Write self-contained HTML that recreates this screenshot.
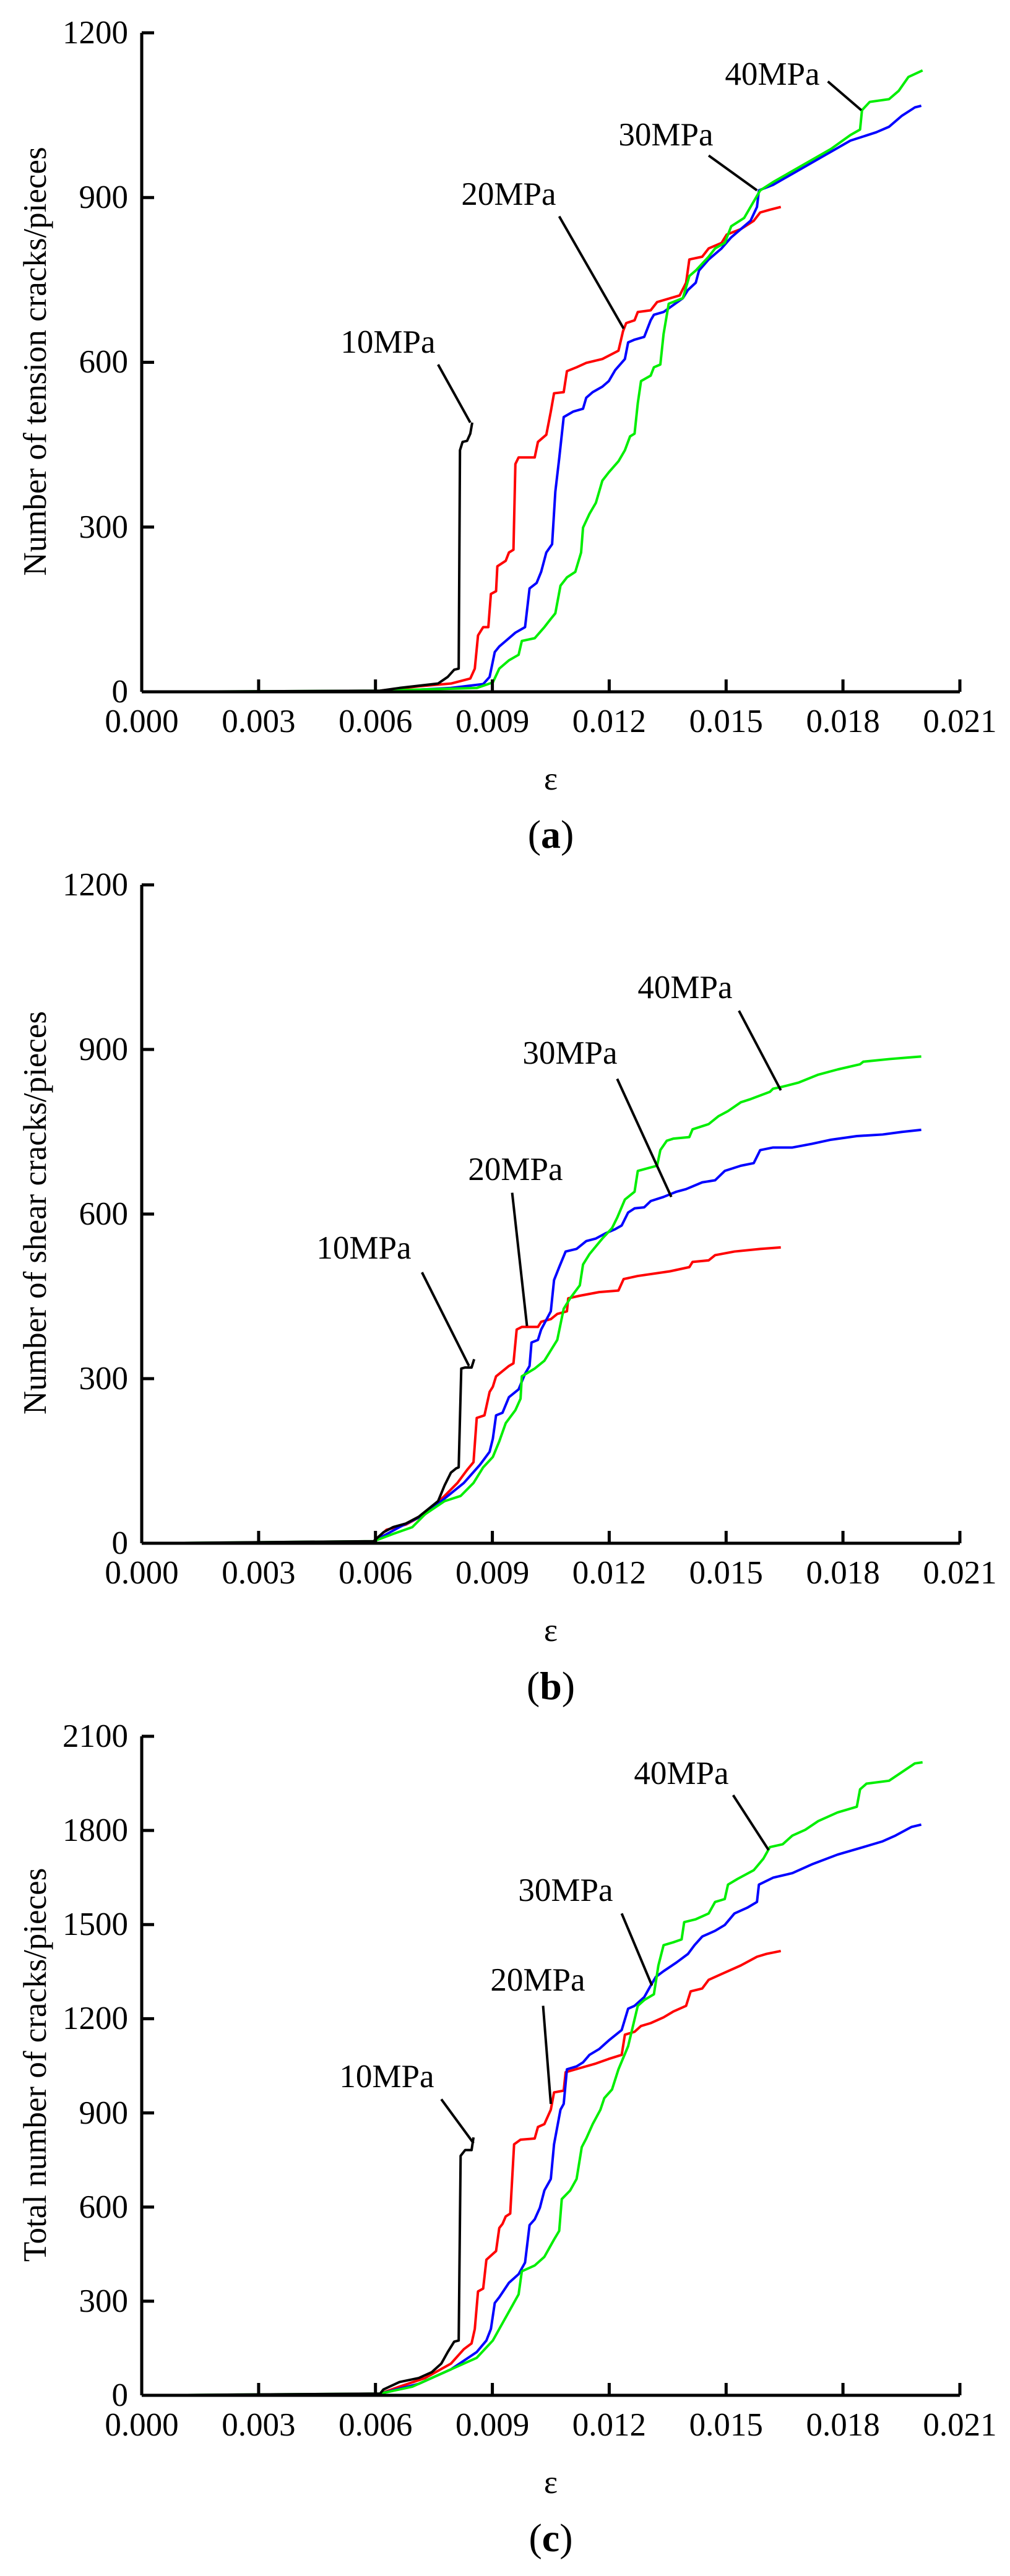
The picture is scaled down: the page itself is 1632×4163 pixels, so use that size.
<!DOCTYPE html>
<html><head><meta charset="utf-8"><style>
html,body{margin:0;padding:0;background:#fff;}
svg{display:block;}
text{font-family:"Liberation Serif","Times New Roman",serif;fill:#000;}
.t{font-size:53px;}
.ax{stroke:#000;stroke-width:5;fill:none;}
.s{fill:none;stroke-width:4;stroke-linejoin:round;vector-effect:non-scaling-stroke;}
.ld{stroke:#000;stroke-width:4;vector-effect:non-scaling-stroke;}
</style></head><body>
<svg width="1632" height="4163" viewBox="0 0 1632 4163" xmlns="http://www.w3.org/2000/svg">
<defs>
<g id="xax">
<path class="ax" d="M229,0 H1551 M417.9,0 v-20 M606.7,0 v-20 M795.6,0 v-20 M984.4,0 v-20 M1173.3,0 v-20 M1362.1,0 v-20 M1551,0 v-20"/>
<g class="t" text-anchor="middle">
<text x="229" y="65">0.000</text><text x="417.9" y="65">0.003</text><text x="606.7" y="65">0.006</text><text x="795.6" y="65">0.009</text><text x="984.4" y="65">0.012</text><text x="1173.3" y="65">0.015</text><text x="1362.1" y="65">0.018</text><text x="1551" y="65">0.021</text>
</g>
<text class="t" x="890" y="158" text-anchor="middle">ε</text>
</g>
</defs>

<!-- Panel a -->
<g>
<path class="ax" d="M229,53 V1118 M229,53 h20 M229,319.25 h20 M229,585.5 h20 M229,851.75 h20"/>
<g class="t" text-anchor="end" dominant-baseline="central">
<text x="207" y="53">1200</text><text x="207" y="319">900</text><text x="207" y="585">600</text><text x="207" y="852">300</text><text x="207" y="1118">0</text>
</g>
<text class="t" transform="translate(57,584) rotate(-90)" text-anchor="middle" dominant-baseline="central">Number of tension cracks/pieces</text>
<g transform="translate(229,53) scale(1.041,0.8935) translate(-220,-60)">
<polyline class="s" stroke="#ff0000" points="590,1250 650,1242 700,1237 730,1228 737,1210 742,1150 750,1135 758,1135 762,1075 770,1070 772,1025 785,1015 790,1000 797,995 800,840 805,828 830,828 835,800 848,787 855,745 860,712 875,710 880,672 895,665 910,657 935,650 960,635 967,600 972,585 985,580 990,565 1010,562 1020,547 1055,535 1065,512 1070,470 1090,465 1100,450 1120,440 1128,425 1150,415 1170,400 1180,385 1195,380 1212,375"/>
<polyline class="s" stroke="#0000ff" points="590,1252 700,1245 750,1238 760,1225 768,1180 775,1170 785,1160 800,1145 815,1135 822,1065 833,1055 840,1035 848,1000 857,985 862,890 868,830 875,755 890,745 905,740 910,720 920,710 935,700 945,690 955,670 970,650 975,620 985,615 1000,610 1010,580 1015,570 1030,565 1060,540 1068,525 1080,512 1085,490 1100,470 1120,450 1135,430 1150,415 1165,400 1175,375 1178,345 1200,335 1230,315 1260,295 1290,275 1320,255 1360,240 1380,230 1400,210 1420,195 1430,192"/>
<polyline class="s" stroke="#00ee00" points="220,1252 590,1250 740,1245 765,1235 775,1210 790,1195 805,1185 810,1160 830,1155 845,1135 855,1120 862,1110 870,1060 880,1045 893,1035 902,1000 905,955 915,930 925,910 935,870 945,855 960,835 970,815 978,790 985,785 990,730 995,690 1010,680 1015,665 1025,660 1030,605 1038,550 1060,540 1070,500 1080,490 1100,465 1110,450 1125,440 1135,410 1155,395 1180,345 1200,330 1230,310 1260,290 1290,270 1320,245 1335,235 1338,200 1350,185 1380,180 1395,165 1410,140 1432,128"/>
<polyline class="s" stroke="#000" points="220,1252 590,1250 620,1245 680,1237 695,1225 705,1212 712,1210 714,815 718,800 725,798 730,785 733,765"/>
<line class="ld" x1="680" y1="660" x2="730" y2="765"/>
<line class="ld" x1="868" y1="392" x2="968" y2="595"/>
<line class="ld" x1="1100" y1="282" x2="1175" y2="345"/>
<line class="ld" x1="1285" y1="148" x2="1337" y2="200"/>
</g>
<g class="t" text-anchor="middle" dominant-baseline="central">
<text x="627" y="553">10MPa</text><text x="822" y="314">20MPa</text><text x="1076" y="218">30MPa</text><text x="1248" y="120">40MPa</text>
</g>
<use href="#xax" transform="translate(0,1118)"/>
<text x="890" y="1348" text-anchor="middle" dominant-baseline="central" style="font-size:64px">(<tspan font-weight="bold">a</tspan>)</text>
</g>

<!-- Panel b -->
<g>
<path class="ax" d="M229,1430 V2494 M229,1430 h20 M229,1696 h20 M229,1962 h20 M229,2228 h20"/>
<g class="t" text-anchor="end" dominant-baseline="central">
<text x="207" y="1430">1200</text><text x="207" y="1696">900</text><text x="207" y="1962">600</text><text x="207" y="2228">300</text><text x="207" y="2494">0</text>
</g>
<text class="t" transform="translate(57,1960) rotate(-90)" text-anchor="middle" dominant-baseline="central">Number of shear cracks/pieces</text>
<g transform="translate(229,1430) scale(1.041,0.8405) translate(-220,-60)">
<polyline class="s" stroke="#ff0000" points="580,1322 600,1300 630,1290 660,1270 690,1235 710,1210 725,1185 735,1170 740,1085 752,1080 760,1035 765,1025 770,1005 790,985 797,980 802,915 810,910 835,910 840,900 855,895 865,885 880,880 882,855 900,850 930,843 960,840 968,818 990,812 1040,803 1070,795 1075,785 1100,782 1110,772 1140,765 1180,760 1212,757"/>
<polyline class="s" stroke="#0000ff" points="580,1322 620,1295 660,1270 690,1240 720,1210 745,1175 760,1150 765,1125 770,1080 780,1075 790,1045 805,1030 815,1000 822,985 825,940 835,935 840,915 855,880 860,820 868,795 878,765 895,760 910,745 925,740 940,730 955,722 965,715 975,690 985,682 1000,680 1010,668 1030,660 1050,650 1065,645 1090,632 1110,628 1125,610 1150,600 1170,595 1180,570 1200,565 1230,565 1260,558 1290,550 1330,543 1370,540 1400,535 1430,531"/>
<polyline class="s" stroke="#00ee00" points="220,1326 580,1322 610,1308 640,1295 660,1270 690,1245 715,1235 735,1210 750,1180 765,1160 775,1130 785,1095 800,1070 808,1048 810,1005 830,990 845,975 855,955 865,935 870,905 875,875 885,855 900,830 905,790 915,770 925,755 935,740 950,720 958,700 970,665 985,650 990,610 1005,605 1020,600 1025,570 1035,552 1045,548 1070,545 1075,530 1100,520 1115,505 1130,495 1150,478 1165,472 1180,465 1195,458 1200,452 1215,448 1240,440 1270,425 1300,415 1335,405 1340,400 1380,395 1410,392 1430,390"/>
<polyline class="s" stroke="#000" points="220,1326 580,1322 595,1305 610,1295 630,1288 650,1275 665,1260 680,1245 690,1215 700,1190 708,1182 712,1180 716,990 722,988 732,988 736,972"/>
<line class="ld" x1="655" y1="805" x2="728" y2="985"/>
<line class="ld" x1="795" y1="652" x2="818" y2="908"/>
<line class="ld" x1="958" y1="433" x2="1042" y2="660"/>
<line class="ld" x1="1147" y1="302" x2="1212" y2="455"/>
</g>
<g class="t" text-anchor="middle" dominant-baseline="central">
<text x="588" y="2017">10MPa</text><text x="833" y="1890">20MPa</text><text x="921" y="1702">30MPa</text><text x="1107" y="1596">40MPa</text>
</g>
<use href="#xax" transform="translate(0,2494)"/>
<text x="890" y="2724" text-anchor="middle" dominant-baseline="central" style="font-size:64px">(<tspan font-weight="bold">b</tspan>)</text>
</g>

<!-- Panel c -->
<g>
<path class="ax" d="M229,2806 V3871 M229,2806 h20 M229,2958.1 h20 M229,3110.3 h20 M229,3262.4 h20 M229,3414.6 h20 M229,3566.7 h20 M229,3718.9 h20"/>
<g class="t" text-anchor="end" dominant-baseline="central">
<text x="207" y="2806">2100</text><text x="207" y="2958">1800</text><text x="207" y="3110">1500</text><text x="207" y="3262">1200</text><text x="207" y="3415">900</text><text x="207" y="3567">600</text><text x="207" y="3719">300</text><text x="207" y="3871">0</text>
</g>
<text class="t" transform="translate(57,3337) rotate(-90)" text-anchor="middle" dominant-baseline="central">Total number of cracks/pieces</text>
<g transform="translate(229,2806) scale(1.041,0.9326) translate(-220,-113)">
<polyline class="s" stroke="#ff0000" points="590,1252 620,1240 660,1225 700,1200 720,1175 732,1165 737,1140 742,1075 750,1070 755,1020 765,1010 770,1005 775,965 780,958 785,945 792,940 798,820 808,812 830,810 835,790 845,785 855,760 860,730 875,727 878,695 900,688 925,680 945,672 965,665 970,630 985,625 995,615 1010,610 1030,600 1045,590 1065,580 1072,555 1090,550 1100,535 1120,525 1150,510 1175,495 1190,490 1212,485"/>
<polyline class="s" stroke="#0000ff" points="590,1252 650,1235 700,1210 740,1180 755,1160 762,1140 768,1095 775,1085 790,1060 805,1045 815,1025 822,960 830,950 838,930 845,900 855,880 860,820 865,790 870,760 875,750 880,690 895,685 905,678 915,665 930,655 945,640 965,622 975,585 985,580 1000,565 1010,545 1018,530 1030,520 1050,505 1068,490 1078,475 1090,460 1110,450 1125,440 1140,420 1160,410 1175,400 1178,370 1200,358 1230,350 1260,335 1300,318 1340,305 1370,295 1390,285 1415,270 1430,266"/>
<polyline class="s" stroke="#00ee00" points="220,1255 590,1252 640,1240 690,1215 740,1190 765,1160 780,1130 795,1100 805,1080 810,1040 830,1030 845,1015 860,985 868,970 872,915 885,900 895,880 903,825 910,810 920,785 932,760 938,740 950,725 960,690 975,650 990,580 1000,570 1015,560 1022,510 1030,475 1045,470 1058,465 1062,435 1080,430 1100,420 1110,400 1125,395 1130,370 1145,360 1170,345 1185,325 1195,305 1215,300 1230,285 1250,275 1270,260 1300,245 1330,235 1335,205 1345,195 1380,190 1400,175 1420,160 1432,158"/>
<polyline class="s" stroke="#000" points="220,1255 590,1252 595,1245 620,1232 650,1225 670,1215 685,1200 695,1180 705,1162 712,1160 715,840 722,830 732,830 735,808"/>
<line class="ld" x1="685" y1="742" x2="735" y2="818"/>
<line class="ld" x1="843" y1="580" x2="855" y2="750"/>
<line class="ld" x1="965" y1="420" x2="1012" y2="545"/>
<line class="ld" x1="1138" y1="215" x2="1193" y2="310"/>
</g>
<g class="t" text-anchor="middle" dominant-baseline="central">
<text x="625" y="3356">10MPa</text><text x="869" y="3200">20MPa</text><text x="914" y="3055">30MPa</text><text x="1101" y="2866">40MPa</text>
</g>
<use href="#xax" transform="translate(0,3871)"/>
<text x="890" y="4101" text-anchor="middle" dominant-baseline="central" style="font-size:64px">(<tspan font-weight="bold">c</tspan>)</text>
</g>
</svg>
</body></html>
